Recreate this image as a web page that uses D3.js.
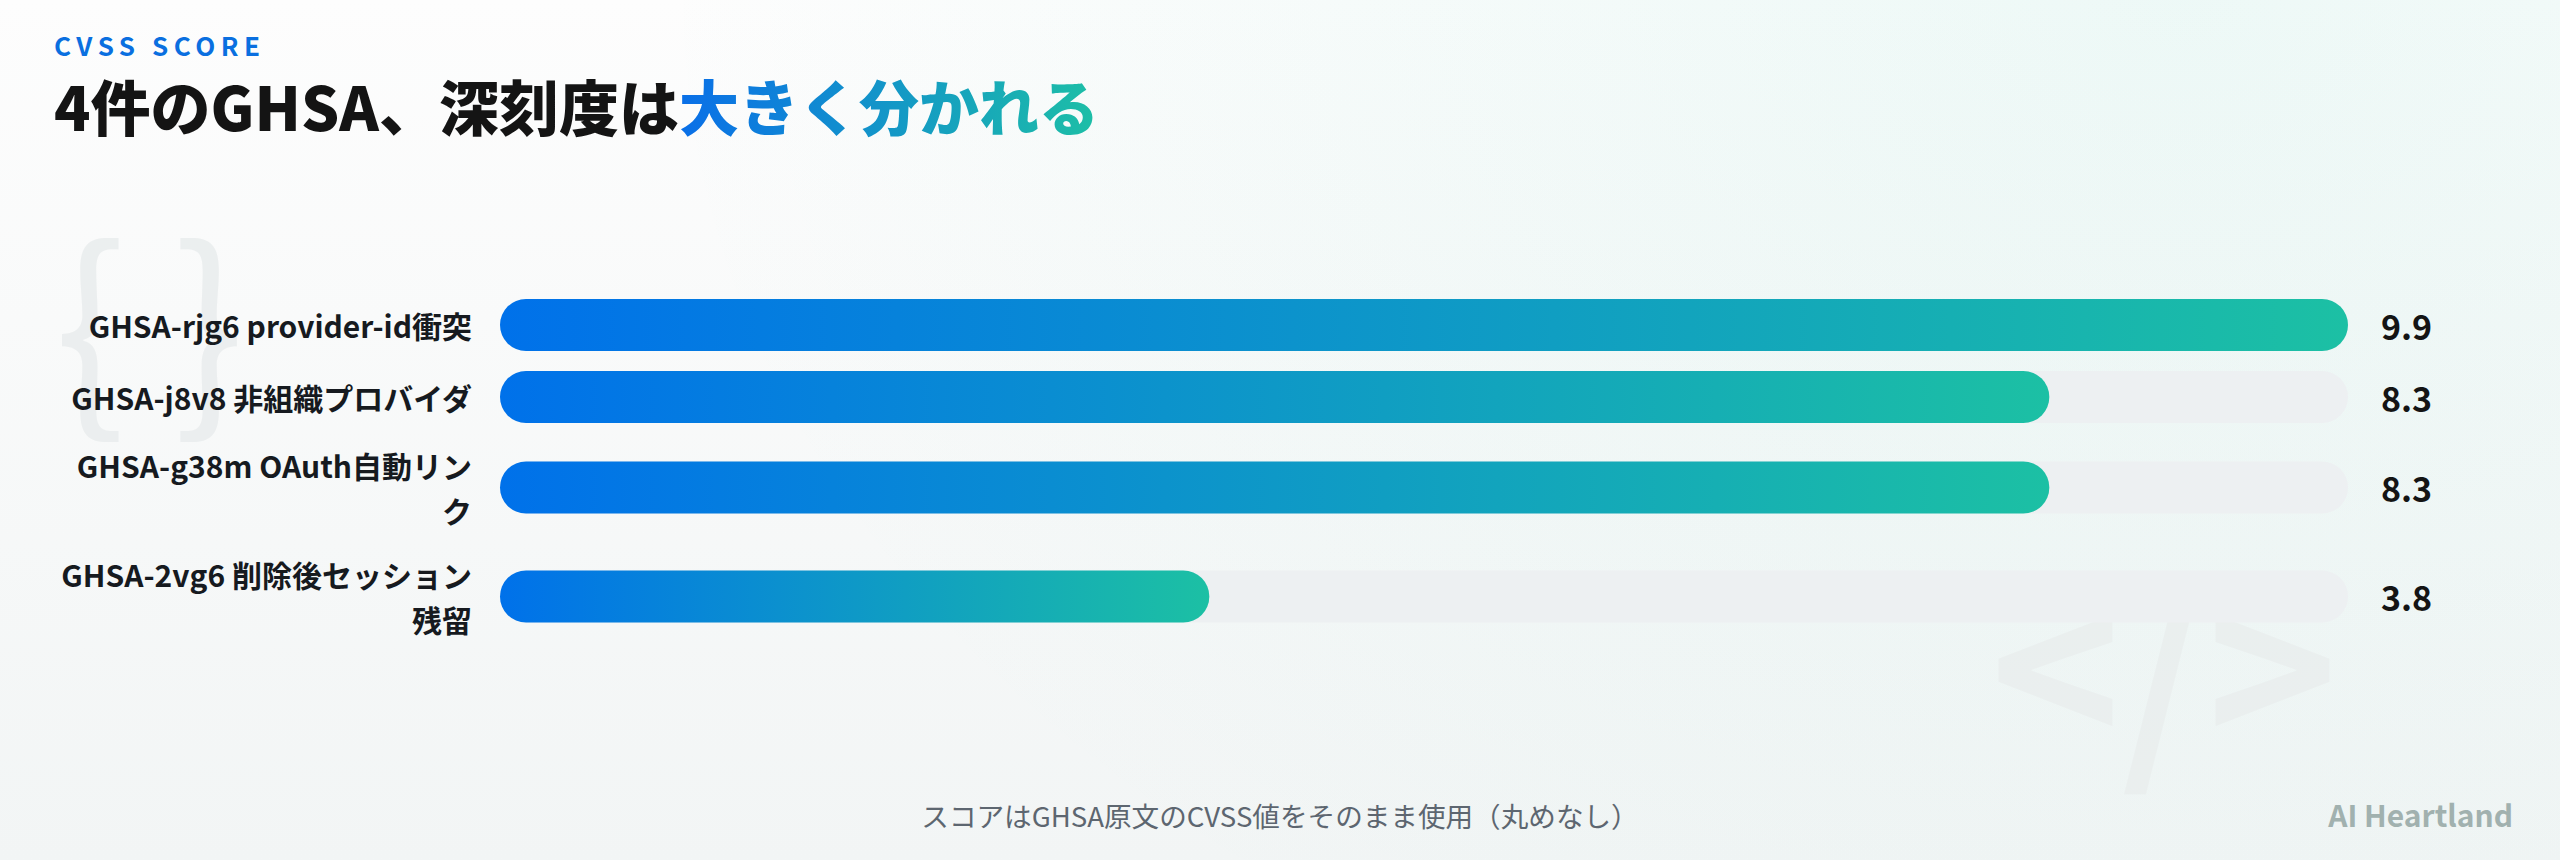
<!DOCTYPE html>
<html>
<head>
<meta charset="utf-8">
<script src="https://cdn.jsdelivr.net/npm/d3@7"></script>
<style>
  html, body { margin: 0; padding: 0; width: 2560px; height: 860px; overflow: hidden; background: #f8fafa; }
  svg { display: block; font-family: "Noto Sans CJK JP", "Noto Sans", sans-serif; }
</style>
</head>
<body>
<svg id="chart" width="2560" height="860"></svg>
<script>
// ---- data ----
const eyebrow = "CVSS SCORE";
const titlePlain = "4件のGHSA、深刻度は";
const titleAccent = "大きく分かれる";
const categories = [
  "GHSA-rjg6 provider-id衝突",
  "GHSA-j8v8 非組織プロバイダ",
  "GHSA-g38m OAuth自動リンク",
  "GHSA-2vg6 削除後セッション残留"
];
const scores = [9.9, 8.3, 8.3, 3.8];
const scoreLabels = ["9.9", "8.3", "8.3", "3.8"];
const footnote = "スコアはGHSA原文のCVSS値をそのまま使用（丸めなし）";
const brand = "AI Heartland";

// ---- layout ----
const W = 2560, H = 860;
const barLeft = 500, barRight = 2348;
const barH = 52, lineH = 45, rowGap = 20, firstTop = 299;
const labelRight = 472, labelMaxW = 416, labelSize = 30;

const svg = d3.select("#chart");
const defs = svg.append("defs");

// background
const bg = defs.append("linearGradient").attr("id", "bgGrad").attr("x1", 0).attr("y1", 0).attr("x2", 0).attr("y2", 1);
bg.append("stop").attr("offset", 0).attr("stop-color", "#fdfdfd");
bg.append("stop").attr("offset", 1).attr("stop-color", "#f2f5f5");
const rg = defs.append("radialGradient").attr("id", "bgRad").attr("cx", 0.85).attr("cy", 0).attr("r", 0.6)
  .attr("gradientTransform", "translate(0.85,0) scale(1,2.2) translate(-0.85,0)");
rg.append("stop").attr("offset", 0).attr("stop-color", "#1cbfa0").attr("stop-opacity", 0.07);
rg.append("stop").attr("offset", 1).attr("stop-color", "#1cbfa0").attr("stop-opacity", 0);

const barGrad = defs.append("linearGradient").attr("id", "barGrad").attr("x1", 0).attr("y1", 0).attr("x2", 1).attr("y2", 0);
barGrad.append("stop").attr("offset", 0).attr("stop-color", "#0071ea");
barGrad.append("stop").attr("offset", 1).attr("stop-color", "#1cc0a4");

const titleGrad = defs.append("linearGradient").attr("id", "titleGrad").attr("x1", 0).attr("y1", 0).attr("x2", 1).attr("y2", 0);
titleGrad.append("stop").attr("offset", 0).attr("stop-color", "#0a6fe8");
titleGrad.append("stop").attr("offset", 1).attr("stop-color", "#1dbfa6");

svg.append("rect").attr("width", W).attr("height", H).attr("fill", "url(#bgGrad)");
svg.append("rect").attr("width", W).attr("height", H).attr("fill", "url(#bgRad)");

// watermarks
svg.append("text").attr("x", 54).attr("y", 406).attr("font-size", 212).attr("font-weight", 400)
  .attr("fill", "#e6eaeb").attr("opacity", 0.7).text("{ }");
svg.append("text").attr("x", 1990).attr("y", 754).attr("font-size", 222).attr("font-weight", 700)
  .attr("fill", "#e8ecec").attr("opacity", 0.65).text("</>");

// header
svg.append("text").attr("x", 54).attr("y", 56).attr("font-size", 26).attr("font-weight", 700)
  .attr("letter-spacing", "5.5px").attr("fill", "#0a6fe0").text(eyebrow);
const t1 = svg.append("text").attr("x", 54).attr("y", 131).attr("font-size", 60).attr("font-weight", 900)
  .attr("fill", "#141414").text(titlePlain);
const t1w = t1.node().getComputedTextLength();
svg.append("text").attr("x", 54 + t1w).attr("y", 131).attr("font-size", 60).attr("font-weight", 900)
  .attr("fill", "url(#titleGrad)").text(titleAccent);

// label wrapping
function tokenize(s) {
  return s.match(/[A-Za-z0-9\-\.]+|\s|./gu);
}
const measurer = svg.append("text").attr("font-size", labelSize).attr("font-weight", 700).attr("visibility", "hidden");
function wrap(s) {
  const toks = tokenize(s);
  const lines = [];
  let cur = "";
  for (const t of toks) {
    const test = cur + t;
    measurer.text(test.trim());
    if (measurer.node().getComputedTextLength() > labelMaxW && cur.trim() !== "") {
      lines.push(cur.trim());
      cur = t.trim() === "" ? "" : t;
    } else {
      cur = test;
    }
  }
  if (cur.trim() !== "") lines.push(cur.trim());
  return lines;
}
const labelLines = categories.map(wrap);
measurer.remove();

// rows: height depends on number of label lines
const rowHeights = labelLines.map(l => Math.max(barH, l.length * lineH - 1));
const centers = [];
let acc = firstTop;
rowHeights.forEach(h => { centers.push(acc + h / 2); acc += h + rowGap; });

const x = d3.scaleLinear().domain([0, d3.max(scores)]).range([barLeft, barRight]);
const y = d3.scaleOrdinal().domain(categories).range(centers);

const rows = svg.append("g").selectAll("g").data(categories).join("g");

rows.append("rect")
  .attr("x", x(0)).attr("y", d => y(d) - barH / 2)
  .attr("width", x(d3.max(scores)) - x(0)).attr("height", barH)
  .attr("rx", barH / 2).attr("fill", "#edf0f2");

rows.append("rect")
  .attr("x", x(0)).attr("y", d => y(d) - barH / 2)
  .attr("width", (d, i) => x(scores[i]) - x(0)).attr("height", barH)
  .attr("rx", barH / 2).attr("fill", "url(#barGrad)");

rows.append("text")
  .attr("x", barRight + 33).attr("y", d => y(d))
  .attr("dominant-baseline", "central")
  .attr("font-size", 34).attr("font-weight", 700).attr("fill", "#141414")
  .text((d, i) => scoreLabels[i]);

rows.each(function (d, i) {
  const lines = labelLines[i];
  const g = d3.select(this);
  const top = y(d) - (lines.length - 1) * lineH / 2;
  lines.forEach((ln, k) => {
    g.append("text").attr("x", labelRight).attr("y", top + k * lineH)
      .attr("text-anchor", "end").attr("dominant-baseline", "central")
      .attr("font-size", labelSize).attr("font-weight", 700).attr("fill", "#161a1f").text(ln);
  });
});

// footer
svg.append("text").attr("x", 1280).attr("y", 827).attr("text-anchor", "middle")
  .attr("font-size", 27.6).attr("font-weight", 400).attr("fill", "#5d6670").text(footnote);
svg.append("text").attr("x", 2513).attr("y", 827).attr("text-anchor", "end")
  .attr("font-size", 30).attr("font-weight", 700).attr("fill", "#a1b1af").text(brand);
</script>
</body>
</html>
